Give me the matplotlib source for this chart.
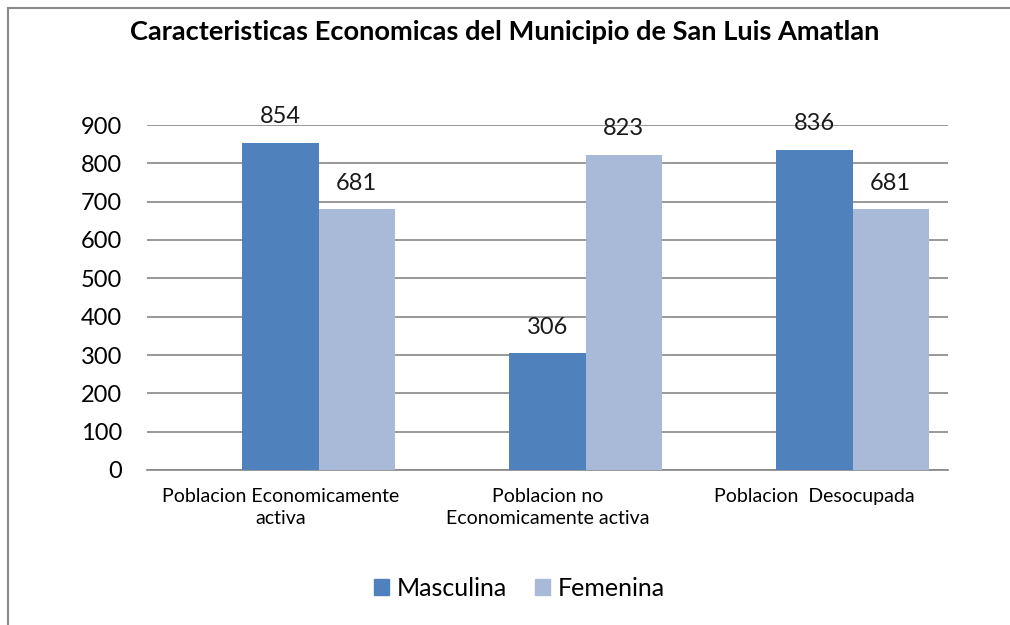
import matplotlib
matplotlib.use("Agg")
import matplotlib.pyplot as plt
import numpy as np
from matplotlib.lines import Line2D
from matplotlib.patches import Patch

categories = ["Poblacion Economicamente\nactiva", "Poblacion no\nEconomicamente activa", "Poblacion  Desocupada"]
masculina = [854, 306, 836]
femenina = [681, 823, 681]
series_names = ["Masculina", "Femenina"]
yticks = [0, 100, 200, 300, 400, 500, 600, 700, 800, 900]

c_m = "#4F81BD"
c_f = "#A9B9D8"

plt.rcParams['font.family'] = ['Lato', 'DejaVu Sans']

fig = plt.figure(figsize=(10.10, 6.25), dpi=100)
W, H = 1010, 625
ax = fig.add_axes([147 / W, 1 - 470 / H, (948 - 147) / W, (470 - 125) / H])

x = np.arange(len(categories))
w = 0.285
b1 = ax.bar(x, masculina, w, color=c_m, zorder=3)
b2 = ax.bar(x + w, femenina, w, color=c_f, zorder=3)

for bars, vals in [(b1, masculina), (b2, femenina)]:
    for r, v in zip(bars, vals):
        ax.text(r.get_x() + r.get_width() / 2, v + 50, str(v), ha="center", va="baseline",
                fontsize=17, color="#1a1a1a", zorder=4)

ax.set_xlim(-0.5, 2.5)
ax.set_ylim(0, 900)
ax.set_yticks(yticks)
ax.set_yticklabels([str(t) for t in yticks], fontsize=17)
ax.yaxis.grid(True, color="#868686", linewidth=1.2, zorder=0)
ax.set_axisbelow(True)
for s in ["top", "right", "left"]:
    ax.spines[s].set_visible(False)
ax.spines["bottom"].set_color("#868686")
ax.spines["bottom"].set_linewidth(1.2)
ax.tick_params(axis="y", length=0, pad=18)
ax.tick_params(axis="x", length=0, pad=13)
ax.set_xticks(x)
ax.set_xticklabels(categories, fontsize=14, linespacing=1.35)

fig.text(0.5, 1 - 32 / H, "Caracteristicas Economicas del Municipio de San Luis Amatlan",
         ha="center", va="center", fontsize=19.6, fontweight="bold")

handles = [Patch(color=c_m), Patch(color=c_f)]
fig.legend(handles, series_names, loc="center", bbox_to_anchor=(519.5 / W, 1 - 588 / H),
           ncol=2, frameon=False, fontsize=18, handlelength=0.6, handleheight=0.6,
           handletextpad=0.28, columnspacing=1.15)

fig.add_artist(Line2D([7.5 / W, 7.5 / W], [0, 1 - 8 / H], transform=fig.transFigure,
                      color="#8a8a8a", linewidth=1.5))
fig.add_artist(Line2D([7.5 / W, 1], [1 - 8 / H, 1 - 8 / H], transform=fig.transFigure,
                      color="#8a8a8a", linewidth=1.5))

fig.savefig("out.png", dpi=100)
